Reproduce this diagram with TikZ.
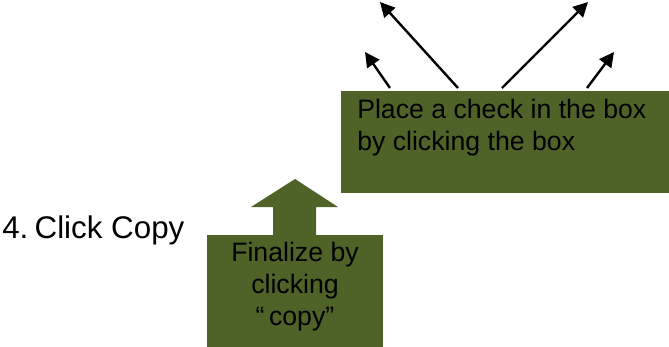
\documentclass[tikz,border=0pt]{standalone}
\usepackage{fontspec}
\setmainfont{Liberation Sans}
\usetikzlibrary{arrows.meta, positioning}
\definecolor{olivedark}{HTML}{4F6228}

\begin{document}
\begin{tikzpicture}[
  x=0.75pt, y=-0.75pt,
  panel/.style={fill=olivedark, inner sep=0pt, anchor=north west},
  boxtext/.style={font=\fontsize{20}{24}\selectfont, inner sep=0pt},
  pointer/.style={draw, line width=1.8pt, -{Triangle[length=11pt, width=11pt]}}
]
\useasboundingbox (0,0) rectangle (669,347);

% Boxes
\node[panel, minimum width=246pt, minimum height=76.5pt] (place) at (341,91) {};
\node[panel, minimum width=132pt, minimum height=84pt] (finalize) at (207,235) {};

% Block arrow on the lower box
\fill[olivedark] (273,236) -- (273,207) -- (251,207) -- (295,179) -- (338,207) -- (316,207) -- (316,236) -- cycle;

% Texts
\node[boxtext, anchor=north west, align=left] (placetext) at (357,99) {Place a check in the box\\by clicking the box};
\node[boxtext, anchor=north, align=center] (finaltext) at (295,242) {Finalize by\\clicking\\“\,copy”};
\node[font=\fontsize{23.5}{28}\selectfont, anchor=base west, inner sep=0pt] (stepfour) at (2,238) {4.\hspace{0.2em}Click Copy};

% Arrow ends
\coordinate (s1) at (390,88);
\coordinate (s2) at (458,88);
\coordinate (s3) at (502,88);
\coordinate (s4) at (587,88);
\coordinate (t1) at (365,52);
\coordinate (t2) at (380,2);
\coordinate (t3) at (588,2);
\coordinate (t4) at (614,52);

% Arrows
\draw[pointer] (s1) -- (t1);
\draw[pointer] (s2) -- (t2);
\draw[pointer] (s3) -- (t3);
\draw[pointer] (s4) -- (t4);

\end{tikzpicture}
\end{document}
